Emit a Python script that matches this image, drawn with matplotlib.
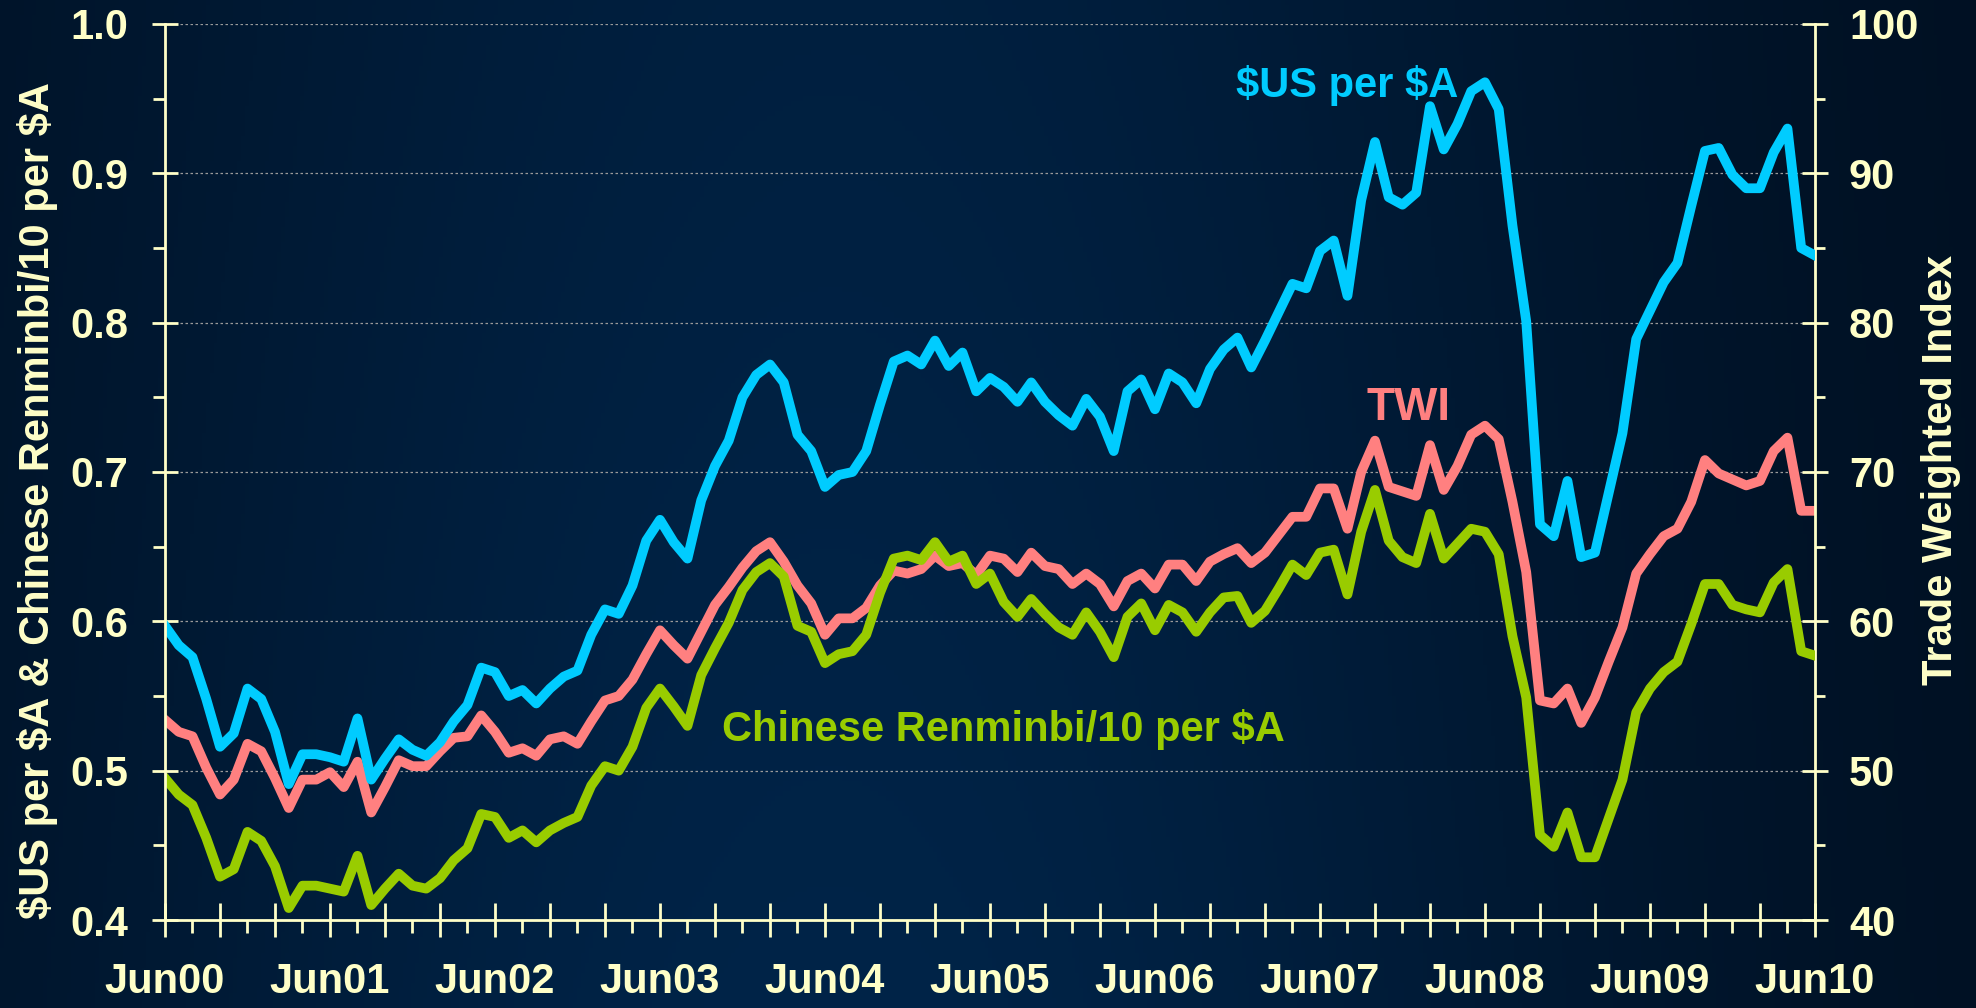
import numpy as np
import matplotlib
matplotlib.use('Agg')
import matplotlib.pyplot as plt
from matplotlib.ticker import MultipleLocator

# monthly, Jun 2000 .. Jun 2010
usd_per_aud = [
    0.597, 0.584, 0.576, 0.548, 0.516, 0.525, 0.555, 0.548, 0.526, 0.491, 0.511, 0.511,
    0.509, 0.506, 0.535, 0.494, 0.508, 0.521, 0.514, 0.510, 0.519, 0.533, 0.544, 0.569,
    0.566, 0.550, 0.554, 0.545, 0.555, 0.563, 0.567, 0.591, 0.608, 0.605, 0.624, 0.654,
    0.668, 0.653, 0.642, 0.681, 0.704, 0.721, 0.750, 0.765, 0.772, 0.760, 0.725, 0.714,
    0.690, 0.698, 0.700, 0.714, 0.745, 0.774, 0.778, 0.772, 0.788, 0.771, 0.780, 0.754,
    0.763, 0.757, 0.747, 0.760, 0.747, 0.738, 0.731, 0.749, 0.737, 0.714, 0.754, 0.762,
    0.742, 0.766, 0.760, 0.746, 0.769, 0.782, 0.790, 0.770, 0.788, 0.807, 0.826, 0.823,
    0.848, 0.855, 0.818, 0.882, 0.921, 0.884, 0.879, 0.887, 0.945, 0.916, 0.933, 0.955,
    0.961, 0.943, 0.865, 0.801, 0.665, 0.657, 0.694, 0.643, 0.646, 0.686, 0.726, 0.789,
    0.808, 0.827, 0.840, 0.878, 0.915, 0.917, 0.899, 0.890, 0.890, 0.914, 0.930, 0.850,
    0.845,
]
twi = [
    53.4, 52.6, 52.3, 50.2, 48.4, 49.4, 51.8, 51.3, 49.5, 47.5, 49.4, 49.4,
    49.9, 48.9, 50.6, 47.2, 48.9, 50.7, 50.3, 50.3, 51.3, 52.2, 52.3, 53.7,
    52.6, 51.2, 51.5, 51.0, 52.1, 52.3, 51.8, 53.3, 54.7, 55.0, 56.1, 57.8,
    59.4, 58.4, 57.5, 59.3, 61.1, 62.3, 63.6, 64.7, 65.3, 64.0, 62.4, 61.2,
    59.1, 60.2, 60.2, 60.9, 62.4, 63.4, 63.2, 63.5, 64.4, 63.7, 63.9, 63.1,
    64.4, 64.2, 63.3, 64.6, 63.7, 63.5, 62.5, 63.2, 62.5, 61.0, 62.7, 63.2,
    62.2, 63.8, 63.8, 62.7, 64.0, 64.5, 64.9, 63.9, 64.6, 65.8, 67.0, 67.0,
    68.9, 68.9, 66.2, 70.0, 72.1, 69.0, 68.7, 68.4, 71.8, 68.8, 70.4, 72.5,
    73.1, 72.2, 68.0, 63.3, 54.7, 54.5, 55.5, 53.2, 54.9, 57.3, 59.6, 63.2,
    64.5, 65.7, 66.2, 68.0, 70.8, 69.9, 69.5, 69.1, 69.4, 71.4, 72.3, 67.4,
    67.4,
]
cny_per_aud = [
    0.495, 0.484, 0.477, 0.455, 0.429, 0.434, 0.459, 0.453, 0.436, 0.408, 0.423, 0.423,
    0.421, 0.419, 0.443, 0.410, 0.421, 0.431, 0.423, 0.421, 0.428, 0.440, 0.448, 0.471,
    0.469, 0.455, 0.460, 0.452, 0.460, 0.465, 0.469, 0.490, 0.503, 0.500, 0.516, 0.542,
    0.555, 0.543, 0.530, 0.564, 0.582, 0.599, 0.621, 0.633, 0.639, 0.630, 0.597, 0.593,
    0.572, 0.578, 0.580, 0.591, 0.619, 0.642, 0.644, 0.641, 0.653, 0.640, 0.644, 0.625,
    0.632, 0.613, 0.603, 0.615, 0.605, 0.596, 0.591, 0.606, 0.593, 0.576, 0.603, 0.612,
    0.594, 0.611, 0.606, 0.593, 0.606, 0.616, 0.617, 0.599, 0.607, 0.622, 0.638, 0.631,
    0.646, 0.648, 0.618, 0.660, 0.688, 0.654, 0.643, 0.639, 0.672, 0.642, 0.652, 0.662,
    0.660, 0.645, 0.590, 0.549, 0.457, 0.449, 0.472, 0.442, 0.442, 0.468, 0.494, 0.539,
    0.555, 0.566, 0.573, 0.598, 0.625, 0.625, 0.611, 0.608, 0.606, 0.626, 0.635, 0.580,
    0.577,
]
year_labels = ['Jun00', 'Jun01', 'Jun02', 'Jun03', 'Jun04', 'Jun05',
               'Jun06', 'Jun07', 'Jun08', 'Jun09', 'Jun10']

TXT = '#FFFFC8'
CYAN = '#00CCFF'
SALMON = '#FF8080'
GREEN = '#99CC00'

plt.rcParams['font.family'] = ['Liberation Sans', 'DejaVu Sans']
plt.rcParams['font.weight'] = 'bold'

fig = plt.figure(figsize=(19.76, 10.08), dpi=100)

# dark navy background, brighter towards the middle
bg = fig.add_axes([0, 0, 1, 1], zorder=-10)
gx, gy = np.meshgrid(np.linspace(0, 1, 500), np.linspace(0, 1, 200))
glow = np.exp(-((gx - 0.42) / 0.42) ** 2) * (0.8 + 0.2 * (1 - gy))
dark = np.array([0, 14, 30]) / 255
light = np.array([0, 36, 72]) / 255
bg.imshow(dark + (light - dark) * glow[..., None], aspect='auto',
          extent=[0, 1, 0, 1], origin='lower')
bg.axis('off')

ax = fig.add_axes([0.0835, 0.0873, 0.835, 0.8889])
ax2 = ax.twinx()
ax.set_zorder(ax2.get_zorder() + 1)
ax.patch.set_visible(False)
ax2.patch.set_visible(False)

months = np.arange(len(usd_per_aud))
ax2.plot(months, twi, color=SALMON, lw=7, solid_joinstyle='round')
ax.plot(months, usd_per_aud, color=CYAN, lw=7, solid_joinstyle='round')
ax.plot(months, cny_per_aud, color=GREEN, lw=7, solid_joinstyle='round')

ax.set_xlim(0, len(months) - 1)
ax.set_ylim(0.4, 1.0)
ax2.set_ylim(40, 100)

# x ticks: long every 4 months, short every 2, labels each June
major_pos = np.arange(0, len(months), 4)
ax.set_xticks(major_pos, [year_labels[m // 12] if m % 12 == 0 else '' for m in major_pos])
ax.set_xticks(np.arange(2, len(months), 4), minor=True)

ax.yaxis.set_major_locator(MultipleLocator(0.1))
ax.yaxis.set_minor_locator(MultipleLocator(0.05))
ax2.yaxis.set_major_locator(MultipleLocator(10))
ax2.yaxis.set_minor_locator(MultipleLocator(5))

ax.tick_params(axis='x', which='major', direction='inout', length=24, width=2,
               colors=TXT, labelsize=30, pad=18)
ax.tick_params(axis='x', which='minor', direction='out', length=9, width=2, colors=TXT)
ax.tick_params(axis='y', which='major', direction='inout', length=19, width=2,
               colors=TXT, labelsize=30, pad=17)
ax.tick_params(axis='y', which='minor', direction='out', length=9, width=2, colors=TXT)
ax2.tick_params(axis='y', which='major', direction='inout', length=19, width=2,
                colors=TXT, labelsize=30, pad=15)
ax2.tick_params(axis='y', which='minor', direction='out', length=7, width=2, colors=TXT)

ax2.yaxis.grid(True, which='major', color='#9a9a9a', linestyle=(0, (2, 2)), lw=0.9)

for s in ['top', 'right']:
    ax.spines[s].set_visible(False)
for s in ['top', 'left', 'bottom']:
    ax2.spines[s].set_visible(False)
for s in ['left', 'bottom']:
    ax.spines[s].set_color(TXT)
    ax.spines[s].set_linewidth(2)
ax2.spines['right'].set_color(TXT)
ax2.spines['right'].set_linewidth(2)

fig.text(38 / 1976, 0.503, r'\$US per \$A & Chinese Renminbi/10 per \$A', rotation=90,
         ha='center', va='center', fontsize=30, color=TXT, fontweight='bold')
fig.text(1941 / 1976, 0.534, 'Trade Weighted Index', rotation=90,
         ha='center', va='center', fontsize=30, color=TXT, fontweight='bold')

ax.text(77.9, 0.951, r'\$US per \$A', color=CYAN, fontsize=30, fontweight='bold',
        ha='left', va='baseline', zorder=5)
ax.text(87.4, 0.735, 'TWI', color=SALMON, fontsize=33, fontweight='bold',
        ha='left', va='baseline', zorder=5)
ax.text(40.5, 0.520, r'Chinese Renminbi/10 per \$A', color=GREEN, fontsize=30,
        fontweight='bold', ha='left', va='baseline', zorder=5)

fig.savefig('out.png', dpi=100)
